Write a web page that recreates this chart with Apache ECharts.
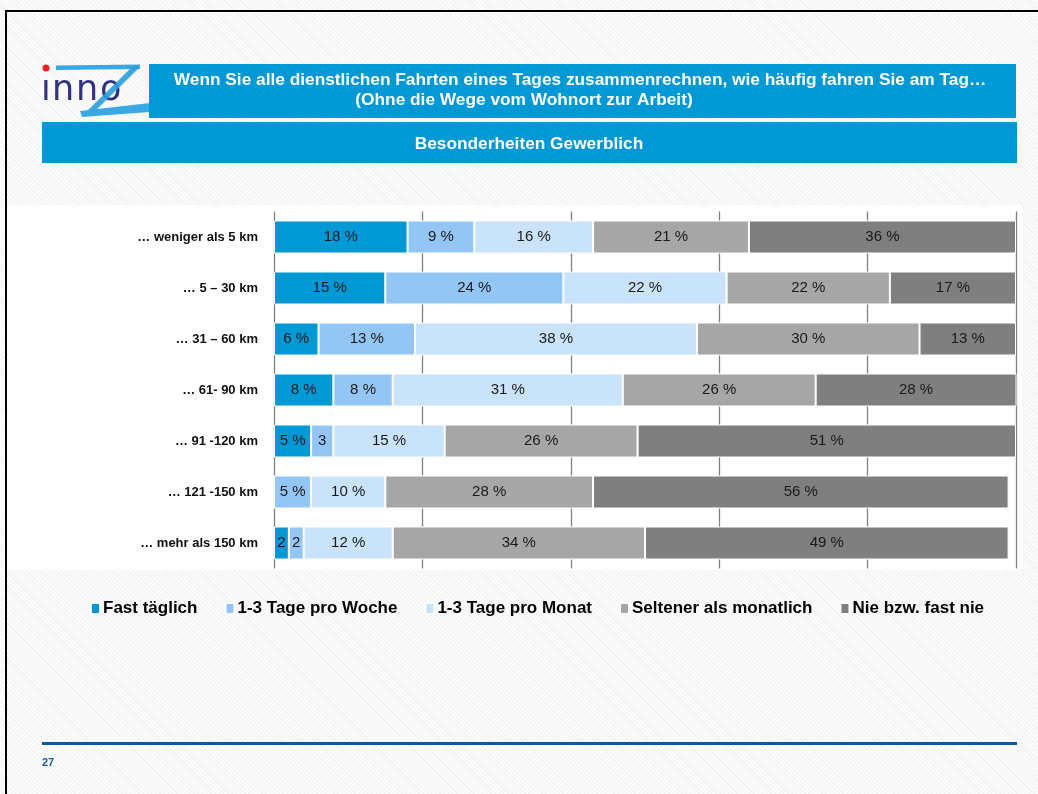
<!DOCTYPE html>
<html>
<head>
<meta charset="utf-8">
<title>Besonderheiten Gewerblich</title>
<script src="https://cdn.jsdelivr.net/npm/echarts@6/dist/echarts.min.js"></script>
<style>
  html, body { margin: 0; padding: 0; }
  body {
    width: 1038px; height: 794px; overflow: hidden;
    background: repeating-linear-gradient(45deg, #fbfbfb 0px, #fbfbfb 2px, #f2f2f2 2px, #f2f2f2 3px);
  }
  #chart { width: 1038px; height: 794px; }
</style>
</head>
<body>
<div id="chart"></div>
<script>
// Distance classes (rows, top to bottom)
const categories = [
  '… weniger als 5 km',
  '… 5 – 30 km',
  '… 31 – 60 km',
  '… 61- 90 km',
  '… 91 -120 km',
  '… 121 -150 km',
  '… mehr als 150 km'
];

// Share of respondents per frequency, in percent
const fastTaeglich  = [18, 15,  6,  8,  5,  0,  2];
const proWoche      = [ 9, 24, 13,  8,  3,  5,  2];
const proMonat      = [16, 22, 38, 31, 15, 10, 12];
const seltener      = [21, 22, 30, 26, 26, 28, 34];
const nieFastNie    = [36, 17, 13, 28, 51, 56, 49];

const seriesNames = [
  'Fast täglich',
  '1-3 Tage pro Woche',
  '1-3 Tage pro Monat',
  'Seltener als monatlich',
  'Nie bzw. fast nie'
];
const seriesValues = [fastTaeglich, proWoche, proMonat, seltener, nieFastNie];
const seriesColors = ['#0099d6', '#93c6f5', '#c8e3fa', '#a6a6a6', '#7f7f7f'];

// Axis ticks (percent)
const xTicks = [0, 20, 40, 60, 80, 100];

const FONT = 'Liberation Sans, Arial, sans-serif';
const BLUE = '#0098d5';
const LOGO_FONT = '35px "DejaVu Sans", sans-serif';
const LOGO_INK = '#30327f';

const chart = echarts.init(document.getElementById('chart'), null, { renderer: 'canvas' });

const series = seriesNames.map((name, i) => ({
  name: name,
  type: 'bar',
  stack: 'total',
  barWidth: 33,
  clip: true,
  data: seriesValues[i],
  itemStyle: { color: seriesColors[i], borderColor: '#ffffff', borderWidth: 1 },
  label: {
    show: true,
    position: 'inside',
    color: '#1a1a1a',
    fontFamily: FONT,
    fontSize: 15,
    formatter: p => {
      if (!p.value) return '';
      return p.value <= 3 ? String(p.value) : p.value + ' %';
    }
  },
  emphasis: { disabled: true }
}));

const option = {
  backgroundColor: 'transparent',
  animation: false,
  grid: { left: 274, right: 22, top: 211.5, bottom: 225.5 },
  xAxis: {
    type: 'value',
    min: xTicks[0],
    max: xTicks[xTicks.length - 1],
    interval: xTicks[1] - xTicks[0],
    axisLabel: { show: false },
    axisLine: { show: false },
    axisTick: { show: false },
    splitLine: { show: true, lineStyle: { color: '#808080', width: 1.3 } }
  },
  yAxis: {
    type: 'category',
    inverse: true,
    data: categories,
    axisLine: { show: false },
    axisTick: { show: false },
    axisLabel: {
      margin: 16,
      color: '#111111',
      fontFamily: FONT,
      fontWeight: 'bold',
      fontSize: 13
    }
  },
  legend: {
    left: 85,
    top: 595,
    icon: 'rect',
    itemWidth: 9,
    itemHeight: 11,
    itemGap: 27,
    selectedMode: false,
    data: seriesNames,
    textStyle: { color: '#000000', fontFamily: FONT, fontWeight: 'bold', fontSize: 17, padding: [0, 0, 0, -2] }
  },
  series: series,
  graphic: [
    // white panel behind the plot
    { type: 'rect', z: -10, silent: true,
      shape: { x: 7, y: 205, width: 1015, height: 365 },
      style: { fill: '#ffffff' } },
    // page frame
    { type: 'rect', silent: true, shape: { x: 5, y: 10, width: 1033, height: 2 }, style: { fill: '#000000' } },
    { type: 'rect', silent: true, shape: { x: 5, y: 10, width: 2, height: 784 }, style: { fill: '#000000' } },

    // logo: lettering, set letter by letter
    { type: 'text', silent: true, x: 41, y: 108,
      style: { text: 'ı', fill: LOGO_INK, font: LOGO_FONT, verticalAlign: 'bottom' } },
    { type: 'text', silent: true, x: 52, y: 108,
      style: { text: 'n', fill: LOGO_INK, font: LOGO_FONT, verticalAlign: 'bottom' } },
    { type: 'text', silent: true, x: 76, y: 108,
      style: { text: 'n', fill: LOGO_INK, font: LOGO_FONT, verticalAlign: 'bottom' } },
    { type: 'text', silent: true, x: 100, y: 108,
      style: { text: 'o', fill: LOGO_INK, font: LOGO_FONT, verticalAlign: 'bottom' } },
    { type: 'circle', silent: true, shape: { cx: 46, cy: 68, r: 3.5 }, style: { fill: '#e8262b' } },

    // logo: blue Z swoosh, its diagonal striking through the "o"
    { type: 'polygon', silent: true,
      shape: { points: [[56, 65.5], [140, 64.5], [140, 69], [56, 70]] },
      style: { fill: '#3aa6e2' } },
    { type: 'polygon', silent: true,
      shape: { points: [[133, 66], [140, 67], [92, 114], [84, 114]] },
      style: { fill: '#2a9edc', opacity: 0.9 } },
    { type: 'polygon', silent: true,
      shape: { points: [[80, 111], [150, 103], [150, 112], [82, 117]] },
      style: { fill: '#3aa8e4' } },

    // question banner
    { type: 'rect', silent: true, shape: { x: 149, y: 64, width: 867, height: 54 }, style: { fill: BLUE } },
    { type: 'text', silent: true, x: 580, y: 80,
      style: { text: 'Wenn Sie alle dienstlichen Fahrten eines Tages zusammenrechnen, wie häufig fahren Sie am Tag…',
               fill: '#ffffff', font: 'bold 17.3px ' + FONT, align: 'center', verticalAlign: 'middle' } },
    { type: 'text', silent: true, x: 524, y: 100,
      style: { text: '(Ohne die Wege vom Wohnort zur Arbeit)',
               fill: '#ffffff', font: 'bold 17.3px ' + FONT, align: 'center', verticalAlign: 'middle' } },

    // subtitle banner
    { type: 'rect', silent: true, shape: { x: 42, y: 122, width: 975, height: 41 }, style: { fill: BLUE } },
    { type: 'text', silent: true, x: 529, y: 144,
      style: { text: 'Besonderheiten Gewerblich',
               fill: '#ffffff', font: 'bold 17.3px ' + FONT, align: 'center', verticalAlign: 'middle' } },

    // footer
    { type: 'rect', silent: true, shape: { x: 42, y: 742, width: 975, height: 3 }, style: { fill: '#0a5aa3' } },
    { type: 'text', silent: true, x: 42, y: 763,
      style: { text: '27', fill: '#1d5aa0', font: 'bold 11px ' + FONT, align: 'left', verticalAlign: 'middle' } }
  ]
};

chart.setOption(option);
</script>
</body>
</html>
